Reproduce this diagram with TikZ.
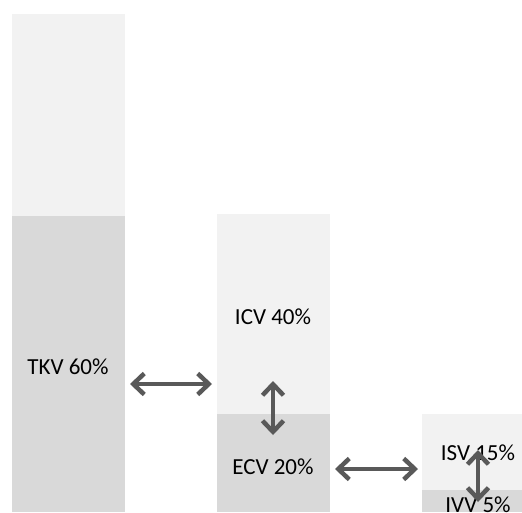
\documentclass[tikz,border=0pt]{standalone}
\usepackage{fontspec}
\setmainfont{Carlito}
\usetikzlibrary{arrows.meta}
\definecolor{lightbar}{HTML}{F2F2F2}
\definecolor{darkbar}{HTML}{D9D9D9}
\definecolor{arrowgrey}{HTML}{595959}
\begin{document}
\begin{tikzpicture}[x=1pt,y=-1pt,
    lbl/.style={font=\fontsize{23}{27}\selectfont, text=black, inner sep=0pt},
    flow/.style={arrowgrey, line width=4.5pt,
      {Straight Barb[length=11pt,width=21pt]}-{Straight Barb[length=11pt,width=21pt]}}]
  \useasboundingbox (0,0) rectangle (522,512);
  \clip (0,0) rectangle (522,512);
  % total volume bar
  \fill[lightbar] (12,14) rectangle (125,216);
  \fill[darkbar] (12,216) rectangle (125,512);
  % compartment bar
  \fill[lightbar] (217,214) rectangle (330,414);
  \fill[darkbar] (217,414) rectangle (330,512);
  % extracellular bar
  \fill[lightbar] (422,414) rectangle (522,490);
  \fill[darkbar] (422,490) rectangle (522,512);
  % labels
  \node[lbl] (tkv) at (68,367) {TKV 60\%};
  \node[lbl] (icv) at (273,317) {ICV 40\%};
  \node[lbl] (ecv) at (273,467) {ECV 20\%};
  \node[lbl] (isv) at (478,453) {ISV 15\%};
  \node[lbl] (ivv) at (478,505) {IVV 5\%};
  % exchange arrows
  \coordinate (tkvE) at (130,384);
  \coordinate (icvW) at (212,384);
  \coordinate (icvS) at (273,381);
  \coordinate (ecvN) at (273,435);
  \coordinate (ecvE) at (335,469);
  \coordinate (isvW) at (418,469);
  \coordinate (isvS) at (478,450);
  \coordinate (ivvN) at (478,502);
  \draw[flow] (tkvE) -- (icvW);
  \draw[flow] (icvS) -- (ecvN);
  \draw[flow] (ecvE) -- (isvW);
  \draw[flow] (isvS) -- (ivvN);
\end{tikzpicture}
\end{document}
